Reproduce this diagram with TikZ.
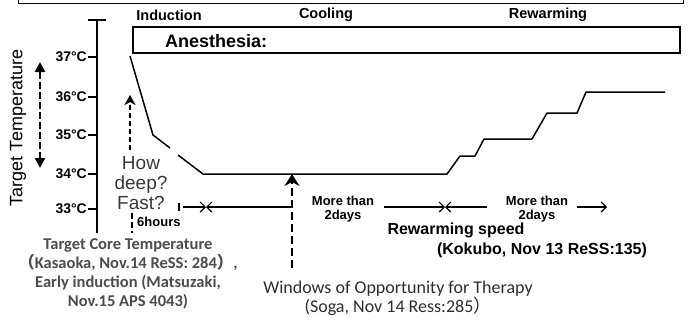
\documentclass[tikz,border=0pt]{standalone}
\usepackage{fontspec}
\setmainfont{Liberation Sans}
\newfontfamily\calib{Carlito}
\newfontfamily\cjk{Noto Sans CJK JP}
\usetikzlibrary{positioning,arrows.meta}

\begin{document}
\begin{tikzpicture}[
  x=1pt, y=-1pt,
  degree/.style={font=\bfseries\fontsize{14}{14}\selectfont, anchor=east, inner sep=0pt},
  phase/.style={font=\bfseries\fontsize{14.5}{14}\selectfont, inner sep=0pt},
  span/.style={font=\bfseries\fontsize{13}{14}\selectfont, align=center, inner sep=0pt},
  ref/.style={font=\bfseries\fontsize{16}{16}\selectfont, inner sep=0pt},
  cite/.style={font=\calib\fontsize{16.5}{19}\selectfont, align=center, inner sep=0pt},
  thin arrow/.style={line width=1.2pt, -{Straight Barb[length=5pt,width=10pt]}},
  big dash/.style={line width=2.8pt, dash pattern=on 8pt off 4pt},
]
\useasboundingbox (0,0) rectangle (688,322);
\draw[line width=1pt] (18,-6) -- (18,3) -- (683,3) -- (683,-6);
\node[phase] (ind) at (169,15) {Induction};
\node[phase] (cool) at (326,15) {Cooling};
\node[phase] (rew) at (548,15) {Rewarming};
\draw[line width=1.6pt] (133,27) rectangle (680,53);
\node[font=\bfseries\fontsize{18}{18}\selectfont, anchor=west, inner sep=0pt] (anes) at (165,41) {Anesthesia:};
\node[rotate=90, font=\fontsize{18}{18}\selectfont, inner sep=0pt] (ylab) at (18,128) {Target Temperature};
\draw[line width=1.5pt] (88,20) -- (106,20) (97,20) -- (97,233);
\foreach \t/\y in {37/57, 36/97, 35/135, 34/174, 33/209} {
  \draw[line width=1.5pt] (88,\y) -- (97,\y);
  \node[degree] (deg\t) at (87,\y) {\t°C};
}
\draw[line width=1.5pt, line join=round] (130,56) -- (153,135) -- (170,148);
\draw[line width=1.5pt, line join=round] (178,155) -- (203,174) -- (447,174) -- (460,156) -- (475,156) -- (484,139)
  -- (532,139) -- (547,113) -- (577,113) -- (586,92) -- (665,92);
\coordinate (yup) at (40,62);
\coordinate (ydown) at (40,168);
\draw[big dash, dash pattern=on 7pt off 3pt, {Triangle[length=10pt,width=10pt]}-{Triangle[length=10pt,width=10pt]}] (ydown) -- (yup);
\coordinate (deepfoot) at (130,150);
\coordinate (deeptip) at (130,95);
\draw[line width=1.8pt, dash pattern=on 5pt off 3pt, -{Stealth[length=10pt,width=11pt,inset=3pt]}] (deepfoot) -- (deeptip);
\node[font=\fontsize{19}{20}\selectfont, text=black!78, align=center, inner sep=0pt] (deep) at (141,183) {How\\deep?\\Fast?};
\draw[line width=1.6pt, dash pattern=on 6pt off 3pt] (132,213) -- (132,233);
\node[span, anchor=west] (six) at (137,222) {6hours};
\draw[line width=1.2pt] (179,203) -- (179,211);
\coordinate (sixa) at (183,207);
\coordinate (sixb) at (206,207);
\coordinate (therx) at (292,207);
\draw[thin arrow] (sixa) -- (sixb);
\draw[thin arrow] (therx) -- (sixb);
\coordinate (therfoot) at (292,268);
\coordinate (thertip) at (292,174);
\draw[big dash, -{Stealth[length=12pt,width=15pt,inset=4pt]}] (therfoot) -- (thertip);
\node[span] (cooldays) at (343,209) {More than\\2days};
\coordinate (ca) at (384,207);
\coordinate (cb) at (445,207);
\coordinate (cc) at (487,207);
\draw[thin arrow] (ca) -- (cb);
\draw[thin arrow] (cc) -- (cb);
\node[span] (rewdays) at (537,209) {More than\\2days};
\coordinate (ra) at (577,207);
\coordinate (rb) at (607,207);
\draw[thin arrow] (ra) -- (rb);
\node[ref] (speed) at (456,230) {Rewarming speed};
\node[ref] (kokubo) at (542,250) {(Kokubo, Nov 13 ReSS:135)};
\node[cite, text=black!70, font=\calib\bfseries\fontsize{16.5}{19}\selectfont] (core) at (128,274)
  {Target Core Temperature\\{\cjk （}Kasaoka, Nov.14 ReSS: 284{\cjk ）},\\Early induction (Matsuzaki,\\Nov.15 APS 4043)};
\node[cite, text=black!82, font=\calib\fontsize{18}{19}\selectfont] (window) at (398,298)
  {Windows of Opportunity for Therapy\\(Soga, Nov 14 Ress:285{\cjk ）}};
\end{tikzpicture}
\end{document}
